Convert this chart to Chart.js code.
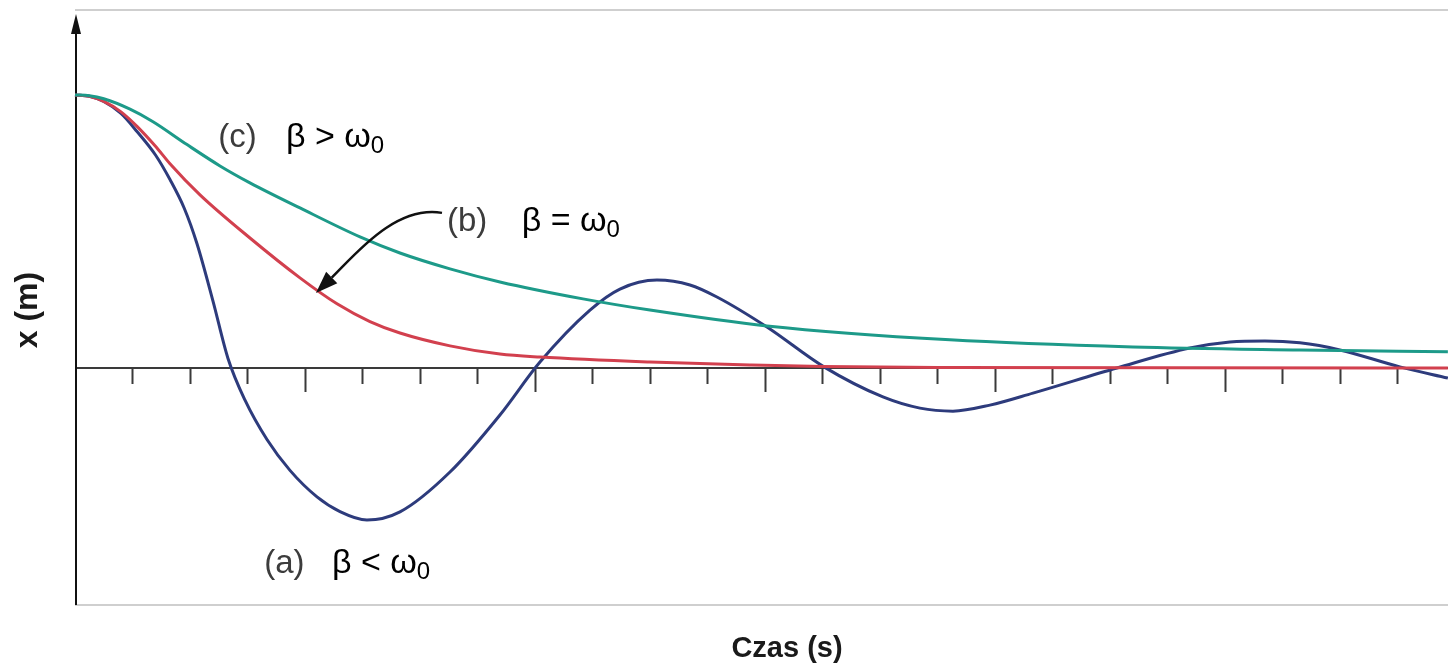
<!DOCTYPE html>
<html>
<head>
<meta charset="utf-8">
<script src="https://cdn.jsdelivr.net/npm/chart.js@4.4.1/dist/chart.umd.min.js"></script>
<style>
  html, body { margin: 0; padding: 0; background: #fff; }
  canvas { display: block; }
</style>
</head>
<body>
<canvas id="chart" width="1448" height="665"></canvas>
<script>
// time in tick units, displacement relative to the starting amplitude
const timeA = [0, 0.25, 0.50, 0.80, 1.078, 1.40, 1.652, 1.90, 2.122, 2.400, 2.661, 2.957, 3.339, 3.739, 4.209, 4.609, 5.078, 5.652, 6.522, 7.391, 8.087, 8.957, 9.478, 10.122, 10.696, 11.165, 12.035, 13.026, 14.052, 14.696, 15.270, 15.913, 16.661, 18.122, 19.391, 20.087, 20.696, 21.304, 22.0, 23.043, 23.878];
const valA  = [1.0, 0.995, 0.976, 0.932, 0.866, 0.780, 0.690, 0.585, 0.455, 0.245, 0.035, -0.118, -0.262, -0.375, -0.472, -0.526, -0.557, -0.527, -0.381, -0.172, 0.022, 0.212, 0.289, 0.322, 0.304, 0.260, 0.150, 0.004, -0.106, -0.147, -0.158, -0.136, -0.092, 0, 0.073, 0.095, 0.099, 0.092, 0.066, 0.004, -0.037];

const timeB = [0, 0.25, 0.50, 0.80, 1.078, 1.40, 1.652, 2.174, 3.043, 3.913, 4.557, 5.130, 5.652, 6.522, 7.391, 8.087, 10.0, 11.739, 13.009, 15.217, 23.878];
const valB  = [1.0, 0.995, 0.976, 0.938, 0.885, 0.812, 0.748, 0.634, 0.476, 0.330, 0.235, 0.170, 0.128, 0.081, 0.051, 0.040, 0.022, 0.011, 0.005, 0.002, 0];

const timeC = [0, 0.25, 0.50, 0.957, 1.357, 1.948, 2.522, 3.043, 3.913, 4.957, 5.652, 6.522, 7.391, 8.835, 10.0, 12.035, 15.217, 18.400, 21.304, 23.878];
const valC  = [1.0, 0.997, 0.986, 0.948, 0.902, 0.818, 0.740, 0.678, 0.586, 0.480, 0.421, 0.363, 0.315, 0.253, 0.212, 0.154, 0.103, 0.077, 0.066, 0.059];

const tickMarks = [1, 2, 3, 4, 5, 6, 7, 8, 9, 10, 11, 12, 13, 14, 15, 16, 17, 18, 19, 20, 21, 22, 23];
const majorTicks = [4, 8, 12, 16, 20];

const xTitle = "Czas (s)";
const yTitle = "x (m)";

// curve labels, placed in axis units
const curveLabels = [
  { x: 2.49, y: 0.810, x2: 3.67, tag: "(c)", rel: "β > ω", sub: "0" },
  { x: 6.47, y: 0.502, x2: 7.77, tag: "(b)", rel: "β = ω", sub: "0" },
  { x: 3.29, y: -0.751, x2: 4.47, tag: "(a)", rel: "β < ω", sub: "0" }
];
const arrowB = [[6.383, 0.568], [5.565, 0.597], [4.870, 0.414], [4.191, 0.275]];

const pts = (t, v) => t.map((x, i) => ({ x: x, y: v[i] }));

const axesPlugin = {
  id: 'axes',
  beforeDatasetsDraw(chart) {
    const { ctx, chartArea: a, scales: { x, y } } = chart;
    const y0 = y.getPixelForValue(0);
    ctx.save();
    // frame lines top and bottom
    ctx.strokeStyle = '#cfcfcf';
    ctx.lineWidth = 2;
    ctx.beginPath();
    ctx.moveTo(a.left, a.top); ctx.lineTo(a.right, a.top);
    ctx.moveTo(a.left, a.bottom); ctx.lineTo(a.right, a.bottom);
    ctx.stroke();
    // zero line with ticks
    ctx.strokeStyle = '#3a3a3a';
    ctx.lineWidth = 2;
    ctx.beginPath();
    ctx.moveTo(a.left, y0); ctx.lineTo(a.right, y0);
    tickMarks.forEach(t => {
      const px = Math.round(x.getPixelForValue(t)) + 0.5;
      ctx.moveTo(px, y0);
      ctx.lineTo(px, y0 + (majorTicks.includes(t) ? 24 : 16));
    });
    ctx.stroke();
    // y axis with arrow
    ctx.strokeStyle = '#111';
    ctx.fillStyle = '#111';
    ctx.lineWidth = 2;
    ctx.beginPath();
    ctx.moveTo(a.left + 1, a.bottom); ctx.lineTo(a.left + 1, a.top + 20);
    ctx.stroke();
    ctx.beginPath();
    ctx.moveTo(a.left + 1, a.top + 4);
    ctx.lineTo(a.left - 4, a.top + 24);
    ctx.lineTo(a.left + 6, a.top + 24);
    ctx.closePath();
    ctx.fill();
    ctx.restore();
  },
  afterDatasetsDraw(chart) {
    const { ctx, chartArea: a, scales: { x, y } } = chart;
    ctx.save();
    ctx.textBaseline = 'alphabetic';
    ctx.textAlign = 'left';
    curveLabels.forEach(l => {
      const by = y.getPixelForValue(l.y);
      ctx.fillStyle = '#3c3c3c';
      ctx.font = '33px "Liberation Sans", Arial, sans-serif';
      ctx.fillText(l.tag, x.getPixelForValue(l.x), by);
      ctx.fillStyle = '#000';
      ctx.font = '34px "Liberation Sans", Arial, sans-serif';
      const rx = x.getPixelForValue(l.x2);
      ctx.fillText(l.rel, rx, by);
      const w = ctx.measureText(l.rel).width;
      ctx.font = '24px "Liberation Sans", Arial, sans-serif';
      ctx.fillText(l.sub, rx + w, by + 6);
    });
    // arrow for (b)
    const p = arrowB.map(q => [x.getPixelForValue(q[0]), y.getPixelForValue(q[1])]);
    const tip = p[3];
    const ang = Math.atan2(tip[1] - p[2][1], tip[0] - p[2][0]);
    const len = 22, hw = 8;
    const base = [tip[0] - len * Math.cos(ang), tip[1] - len * Math.sin(ang)];
    ctx.strokeStyle = '#111';
    ctx.fillStyle = '#111';
    ctx.lineWidth = 2.5;
    ctx.beginPath();
    ctx.moveTo(p[0][0], p[0][1]);
    ctx.bezierCurveTo(p[1][0], p[1][1], p[2][0], p[2][1], base[0], base[1]);
    ctx.stroke();
    ctx.beginPath();
    ctx.moveTo(tip[0], tip[1]);
    ctx.lineTo(base[0] + hw * Math.sin(ang), base[1] - hw * Math.cos(ang));
    ctx.lineTo(base[0] - hw * Math.sin(ang), base[1] + hw * Math.cos(ang));
    ctx.closePath();
    ctx.fill();
    // axis titles
    ctx.fillStyle = '#1a1a1a';
    ctx.font = 'bold 29px "Liberation Sans", Arial, sans-serif';
    ctx.textAlign = 'center';
    ctx.fillText(xTitle, 787, 657);
    ctx.translate(37, 310);
    ctx.rotate(-Math.PI / 2);
    ctx.font = 'bold 32px "Liberation Sans", Arial, sans-serif';
    ctx.fillText(yTitle, 0, 0);
    ctx.restore();
  }
};

const lineStyle = { borderWidth: 3, pointRadius: 0, fill: false, cubicInterpolationMode: 'monotone', clip: 4 };

new Chart(document.getElementById('chart'), {
  type: 'line',
  data: {
    datasets: [
      Object.assign({ label: 'c', data: pts(timeC, valC), borderColor: '#1d9a89' }, lineStyle),
      Object.assign({ label: 'b', data: pts(timeB, valB), borderColor: '#d2404e' }, lineStyle),
      Object.assign({ label: 'a', data: pts(timeA, valA), borderColor: '#2d3b7c' }, lineStyle)
    ]
  },
  options: {
    responsive: false,
    animation: false,
    devicePixelRatio: 1,
    layout: { padding: { left: 75, right: 0, top: 10, bottom: 60 } },
    plugins: { legend: { display: false }, tooltip: { enabled: false } },
    scales: {
      x: { type: 'linear', min: 0, max: 23.88, display: false },
      y: { type: 'linear', min: -0.868, max: 1.311, display: false }
    }
  },
  plugins: [axesPlugin]
});
</script>
</body>
</html>
